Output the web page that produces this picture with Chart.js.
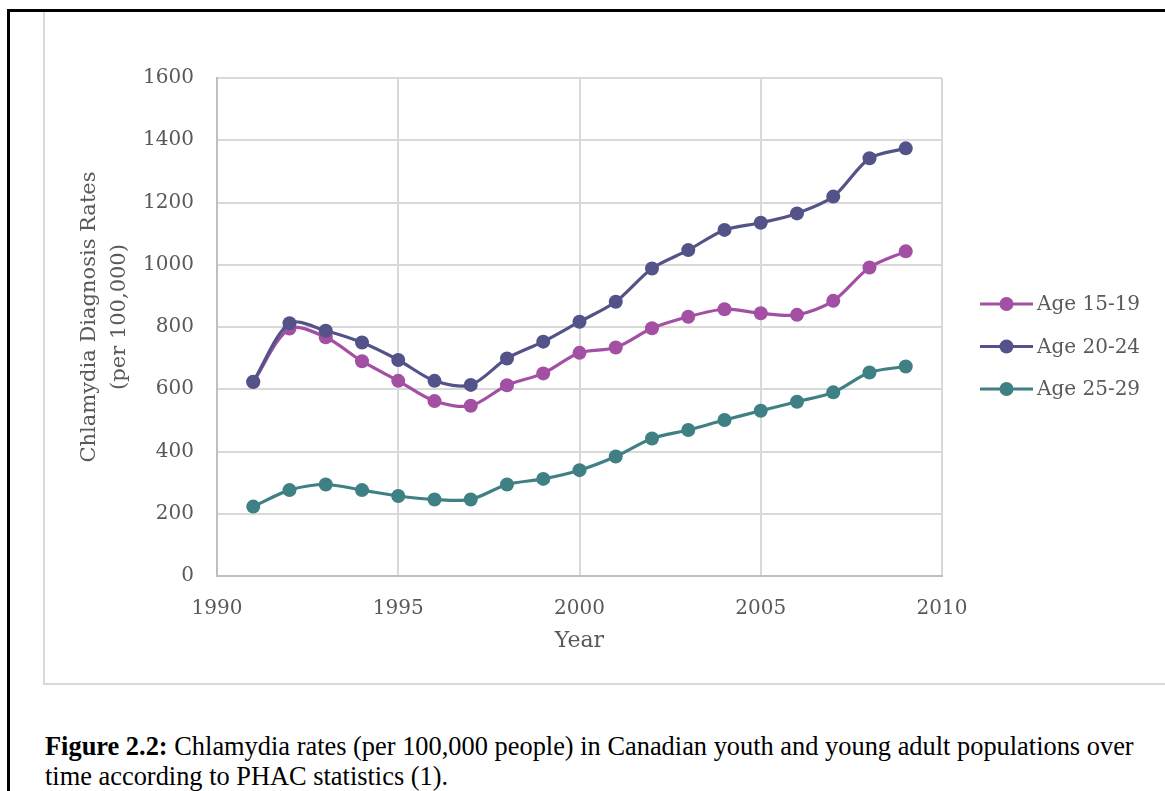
<!DOCTYPE html>
<html>
<head>
<meta charset="utf-8">
<script src="https://cdn.jsdelivr.net/npm/chart.js@4/dist/chart.umd.min.js"></script>
<style>
  html, body { margin: 0; padding: 0; background: #fff; overflow: hidden; }
  body { width: 1165px; height: 791px; position: relative; }
  #pageBorder { position: absolute; left: 7px; top: 9px; width: 1300px; height: 900px; border-left: 3px solid #000; border-top: 3px solid #000; }
  #frame { position: absolute; left: 43px; top: 12px; width: 1200px; height: 671px; border-left: 2px solid #d9d9d9; border-bottom: 2px solid #d9d9d9; }
  #wrap { position: absolute; left: 45px; top: 12px; width: 1120px; height: 671px; }
  #caption { position: absolute; left: 45px; top: 731px; width: 1115px; font-family: "Liberation Serif", serif; font-size: 26.4px; line-height: 30px; color: #000; white-space: nowrap; }
</style>
</head>
<body>
<div id="pageBorder"></div>
<div id="frame"></div>
<div id="wrap"><canvas id="c" width="1120" height="671" style="width:1120px;height:671px"></canvas></div>
<div id="caption"><b>Figure 2.2:</b> Chlamydia rates (per 100,000 people) in Canadian youth and young adult populations over<br>time according to PHAC statistics (1).</div>
<script>
const years = [1991,1992,1993,1994,1995,1996,1997,1998,1999,2000,2001,2002,2003,2004,2005,2006,2007,2008,2009];
const age1519 = [623, 795, 767, 690, 627, 562, 547, 613, 651, 717, 734, 796, 833, 857, 844, 839, 884, 991, 1043];
const age2024 = [624, 812, 788, 750, 694, 627, 614, 699, 753, 817, 881, 988, 1047, 1112, 1135, 1165, 1219, 1342, 1374];
const age2529 = [223, 276, 294, 276, 257, 246, 246, 294, 312, 340, 384, 442, 469, 501, 531, 560, 590, 654, 673];
const seriesNames = ['Age 15-19', 'Age 20-24', 'Age 25-29'];
const seriesColors = ['#A34FA3', '#53538A', '#3F8084'];
const xTickLabels = {1990: '1990', 1995: '1995', 2000: '2000', 2005: '2005', 2010: '2010'};
const yTickLabels = {0: '0', 200: '200', 400: '400', 600: '600', 800: '800', 1000: '1000', 1200: '1200', 1400: '1400', 1600: '1600'};
const yTitle = ['   Chlamydia Diagnosis Rates', '   (per 100,000)'];
const xTitle = 'Year';

const serif = '"DejaVu Serif", serif';
const tickColor = '#595959';

function mk(vals, i, order) {
  return {
    label: seriesNames[i],
    data: years.map((y, k) => ({x: y, y: vals[k]})),
    borderColor: seriesColors[i],
    backgroundColor: seriesColors[i],
    pointBackgroundColor: seriesColors[i],
    pointBorderColor: seriesColors[i],
    pointRadius: 7,
    pointBorderWidth: 0,
    borderWidth: 3.2,
    tension: 0.3,
    order: order,
    showLine: true
  };
}

const legendPlugin = {
  id: 'lineMarkerLegend',
  afterDraw(chart) {
    const ctx = chart.ctx;
    const x0 = chart.chartArea.right + 38;
    const yStart = 292, gap = 42.5;
    ctx.save();
    seriesNames.forEach((name, i) => {
      const y = yStart + i * gap;
      ctx.strokeStyle = seriesColors[i];
      ctx.lineWidth = 3.2;
      ctx.beginPath();
      ctx.moveTo(x0, y);
      ctx.lineTo(x0 + 53, y);
      ctx.stroke();
      ctx.fillStyle = seriesColors[i];
      ctx.beginPath();
      ctx.arc(x0 + 26.5, y, 7, 0, Math.PI * 2);
      ctx.fill();
      ctx.fillStyle = tickColor;
      ctx.font = '20px ' + serif;
      ctx.textBaseline = 'middle';
      ctx.textAlign = 'left';
      ctx.fillText(name, x0 + 57, y + 1);
    });
    ctx.restore();
  }
};

new Chart(document.getElementById('c'), {
  type: 'scatter',
  data: {
    datasets: [mk(age1519, 0, 1), mk(age2024, 1, 0), mk(age2529, 2, 2)]
  },
  options: {
    responsive: false,
    devicePixelRatio: 1,
    animation: false,
    layout: { padding: { left: 0, right: 223, top: 66, bottom: 0 } },
    plugins: { legend: { display: false }, tooltip: { enabled: false } },
    scales: {
      x: {
        type: 'linear', min: 1990, max: 2010,
        afterFit(s) { s.height = 107; },
        ticks: { stepSize: 5, color: tickColor, font: { family: serif, size: 20 }, padding: 21,
          callback: v => xTickLabels[v] },
        grid: { color: '#d9d9d9', lineWidth: 2, drawTicks: false },
        border: { color: '#bfbfbf', width: 2 },
        title: { display: true, text: xTitle, color: tickColor, font: { family: serif, size: 22, lineHeight: 1.2 }, padding: { top: 0, bottom: 29 } }
      },
      y: {
        min: 0, max: 1600,
        afterFit(s) { s.width = 172; },
        ticks: { stepSize: 200, color: tickColor, font: { family: serif, size: 20 }, padding: 23,
          callback: v => yTickLabels[v] },
        grid: { color: '#d9d9d9', lineWidth: 2, drawTicks: false },
        border: { color: '#bfbfbf', width: 2 },
        title: { display: true, text: yTitle, color: tickColor, font: { family: serif, size: 21, lineHeight: 1.43 }, padding: { top: 30, bottom: 0 } }
      }
    }
  },
  plugins: [legendPlugin]
});
</script>
</body>
</html>
